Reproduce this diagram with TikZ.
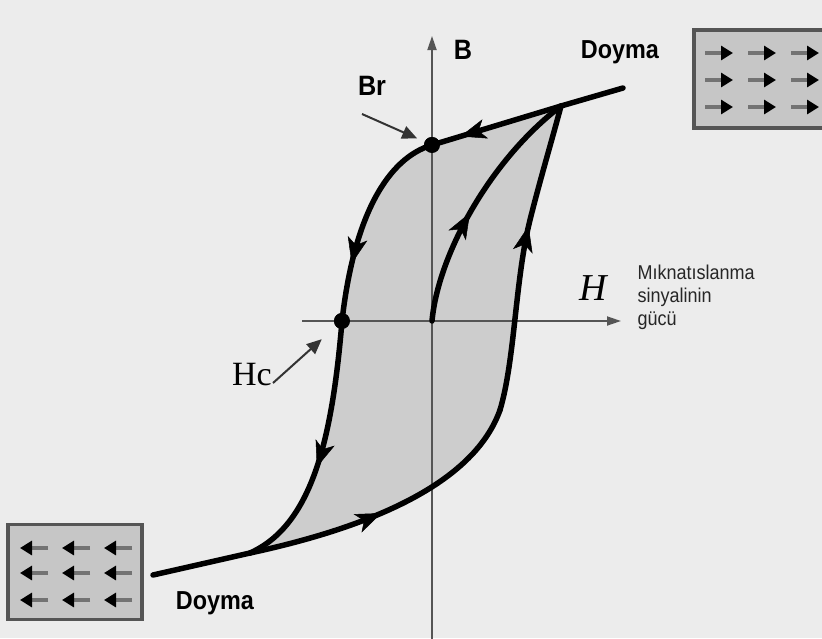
\documentclass[tikz,border=0pt]{standalone}
\usepackage{fontspec}
\setmainfont{Liberation Serif}
\setsansfont{Liberation Sans}
\newfontfamily\narrowsf[FakeStretch=0.9]{Liberation Sans}
\usepackage{xcolor}
\usepackage{tikz}
\usetikzlibrary{arrows.meta, decorations.markings, positioning}
\definecolor{paper}{HTML}{ECECEC}
\definecolor{loopfill}{HTML}{CDCDCD}
\definecolor{boxfill}{HTML}{C6C6C6}
\definecolor{axisgray}{HTML}{555555}
\tikzset{
    curve/.style={line width=5.5pt, line cap=round, line join=round, color=black},
    axis/.style={line width=1.8pt, color=axisgray, -{Triangle[length=14pt, width=9pt]}},
    pointer/.style={line width=2pt, color=black!80, -{Triangle[length=15pt, width=13pt]}},
    midarrow/.style={postaction={decorate, decoration={markings, mark=at position #1 with {\arrow{Stealth[length=26pt, width=20pt, inset=7pt, line width=0.5pt]}}}}},
    dot/.style={circle, fill=black, inner sep=0pt, minimum size=16pt},
    fieldbox/.style={rectangle, draw=axisgray, line width=3.5pt, fill=boxfill},
    spin/.style={line width=3.5pt, color=black!55, -{Triangle[length=12pt, width=14pt, color=black]}},
    boldlabel/.style={font=\narrowsf\bfseries\fontsize{28}{32}\selectfont},
    satlabel/.style={font=\narrowsf\bfseries\fontsize{26}{30}\selectfont},
    seriflabel/.style={font=\fontsize{34}{38}\selectfont}
}

\begin{document}
\begin{tikzpicture}[x=1pt, y=-1pt]
    \useasboundingbox (0,0) rectangle (822,638);
    \fill[paper] (0,0) rectangle (822,638);

    \coordinate (origin) at (432,321);
    \coordinate (sattop) at (561,106);
    \coordinate (satbot) at (250,553);
    \coordinate (knee) at (500,410);
    \coordinate (rise) at (530,220);
    \coordinate (topend) at (623,88);
    \coordinate (botend) at (153,575);
    \coordinate (vbot) at (432,640);
    \coordinate (vtop) at (432,36);
    \coordinate (hleft) at (302,321);
    \coordinate (hright) at (621,321);

    \node (brpt) [dot] at (432,145) {};
    \node (hcpt) [dot] at (342,321) {};

    \fill[loopfill] (sattop) -- (brpt.center) .. controls (388,158) and (354,215) .. (hcpt.center)
        .. controls (332,440) and (312,525) .. (satbot)
        .. controls (380,525) and (475,480) .. (knee)
        .. controls (515,360) and (515,280) .. (rise)
        .. controls (540,180) and (552,140) .. (sattop) -- cycle;

    \draw[axis] (vbot) -- (vtop);
    \draw[axis] (hleft) -- (hright);

    \draw[curve] (topend) -- (sattop);
    \draw[curve, midarrow=0.78] (sattop) -- (brpt.center);
    \draw[curve, midarrow=0.72] (brpt.center) .. controls (388,158) and (354,215) .. (hcpt.center);
    \draw[curve, midarrow=0.57] (hcpt.center) .. controls (332,440) and (312,525) .. (satbot);
    \draw[curve] (botend) -- (satbot);
    \draw[curve, midarrow=0.46] (satbot) .. controls (380,525) and (475,480) .. (knee);
    \draw[curve, midarrow=0.6] (knee) .. controls (515,360) and (515,280) .. (rise)
        .. controls (540,180) and (552,140) .. (sattop);
    \draw[curve, midarrow=0.45] (origin) .. controls (438,255) and (490,160) .. (sattop);

    \node (brdot) [dot] at (brpt) {};
    \node (hcdot) [dot] at (hcpt) {};

    \node (blabel) [boldlabel] at (463,50) {B};
    \node (brlabel) [boldlabel] at (372,86) {Br};
    \node (hclabel) [seriflabel] at (252,375) {Hc};
    \node (hlabel) [seriflabel, font=\itshape\fontsize{38}{40}\selectfont] at (593,288) {H};
    \node (hname) [anchor=west, align=left, text=black!85, font=\narrowsf\fontsize{20}{23}\selectfont] at (634,297) {Mıknatıslanma\\sinyalinin\\gücü};
    \node (doymatop) [satlabel] at (620,52) {Doyma};
    \node (doymabot) [satlabel] at (215,603) {Doyma};

    \coordinate (brtail) at (362,114);
    \coordinate (hctail) at (273,383);
    \draw[pointer, shorten >=8pt] (brtail) -- (brpt);
    \draw[pointer, shorten >=19pt] (hctail) -- (hcpt);

    \node (boxright) [fieldbox, minimum width=146pt, minimum height=98pt] at (767,79) {};
    \node (boxleft) [fieldbox, minimum width=134pt, minimum height=95pt] at (75,572) {};
    \foreach \r in {53,80,107}
        \foreach \c in {705,748,791}
            \draw[spin] (\c,\r) -- ++(28,0);
    \foreach \r in {548,573,600}
        \foreach \c in {48,90,132}
            \draw[spin] (\c,\r) -- ++(-28,0);
\end{tikzpicture}
\end{document}
